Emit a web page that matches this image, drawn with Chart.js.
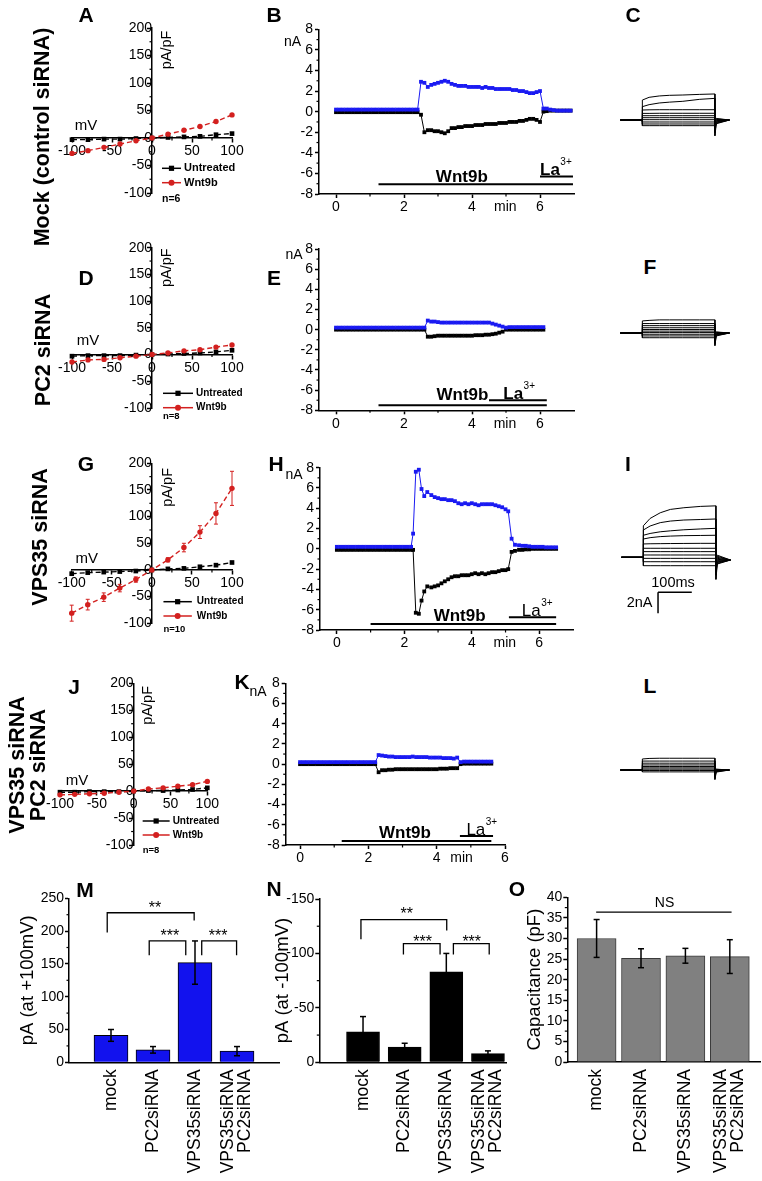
<!DOCTYPE html>
<html>
<head>
<meta charset="utf-8">
<script src="https://cdn.jsdelivr.net/npm/chart.js@4.4.1/dist/chart.umd.min.js"></script>
<style>
  html, body { margin:0; padding:0; background:#fff; }
  #fig { position:relative; width:762px; height:1181px; overflow:hidden; background:#fff;
         font-family:'Liberation Sans', Arial, Helvetica, sans-serif; color:#000; }
  #fig canvas { position:absolute; }
  .letter { position:absolute; font-weight:bold; font-size:21px; line-height:21px;
            transform:translate(-50%,-50%); white-space:nowrap; }
  .row { position:absolute; font-weight:bold; font-size:21.5px; line-height:20.5px; text-align:center;
         white-space:nowrap; transform:translate(-50%,-50%) rotate(-90deg); }
</style>
</head>
<body>
<div id="fig"></div>
<script>
// ======================= DATA =======================
// ---- I-V relationships (A, D, G, J) ----
const ivVoltage = [-100, -80, -60, -40, -20, 0, 20, 40, 60, 80, 100];
const ivXTicks = [-100, -50, 0, 50, 100];
const ivYTicks = [-100, -50, 0, 50, 100, 150, 200];
const ivXMinor = [-75, -25, 25, 75];
const ivYMinor = [-75, -25, 25, 75, 125, 175];
const ivSeriesNames = ['Untreated', 'Wnt9b'];
const A_untreated = [-3, -3, -2, -2, -1, 0, 1, 2, 3, 6, 8];
const A_wnt9b     = [-28, -23, -17, -11, -5, 0, 7, 14, 21, 30, 42];
const D_untreated = [-3, -2, -2, -2, -1, 0, 1, 2, 3, 5, 8];
const D_wnt9b     = [-14, -10, -9, -6, -3, 0, 3, 7, 9, 14, 18];
const G_untreated = [-7, -5, -4, -3, -2, 0, 2, 3, 6, 9, 14];
const G_wnt9b     = [-81, -65, -51, -34, -18, 0, 19, 42, 71, 106, 153];
const G_wnt9bErr  = [15, 10, 8, 7, 5, 0, 4, 8, 12, 20, 32];
const J_untreated = [-2, -2, -1, -1, -1, 0, 1, 1, 2, 3, 6];
const J_wnt9b     = [-7, -6, -5, -4, -2, 0, 4, 6, 9, 12, 18];
const ivCounts = ['n=6', 'n=8', 'n=10', 'n=8'];

// ---- Time courses (B, E, H, K) ----
const tcXTicks = [0, 2, 4, 6];
const tcYTicks = [-8, -6, -4, -2, 0, 2, 4, 6, 8];
const tcXMinor = [1, 3, 5];
const tcYMinor = [-7, -5, -3, -1, 1, 3, 5, 7];
const tcXUnit = 'min';
const tcYUnit = 'nA';

const B_time = [0,0.1,0.2,0.3,0.4,0.5,0.6,0.7,0.8,0.9,1,1.1,1.2,1.3,1.4,1.5,1.6,1.7,1.8,1.9,2,2.1,2.2,2.3,2.4,
  2.5,2.6,2.7,2.8,2.9,3,3.1,3.2,3.3,3.4,3.5,3.6,3.7,3.8,3.9,4,4.1,4.2,4.3,4.4,4.5,4.6,4.7,4.8,4.9,
  5,5.1,5.2,5.3,5.4,5.5,5.6,5.7,5.8,5.9,6,6.1,6.2,6.3,6.4,6.5,6.6,6.7,6.8,6.9];
const B_outward = [0.2,0.2,0.2,0.2,0.2,0.2,0.2,0.2,0.2,0.2,0.2,0.2,0.2,0.2,0.2,0.2,0.2,0.2,0.2,0.2,0.2,0.2,0.2,0.2,0.2,
  2.9,2.8,2.4,2.6,2.7,2.8,2.9,3.0,2.9,2.7,2.6,2.5,2.5,2.5,2.4,2.4,2.4,2.4,2.3,2.4,2.3,2.3,2.2,2.2,2.2,
  2.2,2.2,2.1,2.1,2.0,2.0,1.9,1.8,1.8,1.9,2.0,0.3,0.3,0.2,0.15,0.1,0.1,0.1,0.1,0.1];
const B_inward = [-0.05,-0.05,-0.05,-0.05,-0.05,-0.05,-0.05,-0.05,-0.05,-0.05,-0.05,-0.05,-0.05,-0.05,-0.05,-0.05,-0.05,-0.05,-0.05,-0.05,-0.05,-0.05,-0.05,-0.05,-0.05,
  -0.3,-2.0,-1.8,-1.8,-1.9,-1.9,-2.0,-2.1,-1.9,-1.6,-1.6,-1.5,-1.5,-1.4,-1.4,-1.4,-1.3,-1.3,-1.3,-1.2,-1.2,-1.2,-1.2,-1.1,-1.1,
  -1.1,-1.0,-1.0,-1.0,-0.9,-0.9,-0.8,-0.7,-0.7,-0.8,-1.0,0.0,0.05,0.1,0.1,0.1,0.1,0.1,0.1,0.1];
const B_wnt9b = [1.25, 6.97];
const B_la = [6.0, 6.97];

const E_time = [0,0.1,0.2,0.3,0.4,0.5,0.6,0.7,0.8,0.9,1,1.1,1.2,1.3,1.4,1.5,1.6,1.7,1.8,1.9,2,2.1,2.2,2.3,2.4,2.5,2.6,
  2.7,2.8,2.9,3,3.1,3.2,3.3,3.4,3.5,3.6,3.7,3.8,3.9,4,4.1,4.2,4.3,4.4,4.5,4.6,4.7,4.8,4.9,5,
  5.1,5.2,5.3,5.4,5.5,5.6,5.7,5.8,5.9,6,6.1];
const E_outward = [0.2,0.2,0.2,0.2,0.2,0.2,0.2,0.2,0.2,0.2,0.2,0.2,0.2,0.2,0.2,0.2,0.2,0.2,0.2,0.2,0.2,0.2,0.2,0.2,0.2,0.2,0.2,
  0.9,0.8,0.8,0.75,0.7,0.7,0.7,0.7,0.7,0.7,0.7,0.7,0.7,0.7,0.7,0.7,0.7,0.7,0.7,0.6,0.5,0.4,0.3,0.2,
  0.25,0.25,0.25,0.25,0.25,0.25,0.25,0.25,0.25,0.25,0.25];
const E_inward = [0,0,0,0,0,0,0,0,0,0,0,0,0,0,0,0,0,0,0,0,0,0,0,0,0,0,0,
  -0.7,-0.7,-0.65,-0.6,-0.6,-0.6,-0.6,-0.6,-0.6,-0.6,-0.6,-0.6,-0.6,-0.6,-0.55,-0.55,-0.55,-0.5,-0.5,-0.45,-0.4,-0.3,-0.2,0.0,
  0,0,0,0,0,0,0,0,0,0,0];
const E_wnt9b = [1.25, 6.2];
const E_la = [4.5, 6.2];

const H_time = [0,0.1,0.2,0.3,0.4,0.5,0.6,0.7,0.8,0.9,1,1.1,1.2,1.3,1.4,1.5,1.6,1.7,1.8,1.9,2,2.1,2.2,
  2.26,2.34,2.43,2.51,2.59,2.68,
  2.8,2.9,3,3.1,3.2,3.3,3.4,3.5,3.6,3.7,3.8,3.9,4,4.1,4.2,4.3,4.4,4.5,4.6,4.7,4.8,4.9,5,
  5.08,5.18,5.28,
  5.4,5.5,5.6,5.7,5.8,5.9,6,6.1,6.2,6.3,6.4,6.5];
const H_outward = [0.2,0.2,0.2,0.2,0.2,0.2,0.2,0.2,0.2,0.2,0.2,0.2,0.2,0.2,0.2,0.2,0.2,0.2,0.2,0.2,0.2,0.2,0.2,
  1.5,7.6,7.8,5.9,5.2,5.6,
  5.3,5.1,5.0,4.9,4.9,4.8,4.8,4.7,4.5,4.4,4.5,4.4,4.5,4.4,4.3,4.4,4.4,4.4,4.4,4.3,4.2,4.1,3.9,
  3.7,1.0,0.4,
  0.35,0.3,0.3,0.25,0.2,0.2,0.2,0.2,0.15,0.15,0.15,0.15];
const H_inward = [-0.1,-0.1,-0.1,-0.1,-0.1,-0.1,-0.1,-0.1,-0.1,-0.1,-0.1,-0.1,-0.1,-0.1,-0.1,-0.1,-0.1,-0.1,-0.1,-0.1,-0.1,-0.1,-0.1,
  -0.1,-6.3,-6.4,-5.1,-4.2,-3.7,
  -3.8,-3.7,-3.6,-3.4,-3.2,-3.0,-2.8,-2.7,-2.7,-2.6,-2.6,-2.6,-2.5,-2.4,-2.5,-2.4,-2.5,-2.4,-2.3,-2.3,-2.2,-2.1,-2.1,
  -2.0,-0.3,-0.2,
  -0.1,-0.1,-0.05,-0.05,0,0,0,0,0,0,0,0];
const H_wnt9b = [1.0, 6.5];
const H_la = [5.1, 6.5];

const K_time = [0,0.1,0.2,0.3,0.4,0.5,0.6,0.7,0.8,0.9,1,1.1,1.2,1.3,1.4,1.5,1.6,1.7,1.8,1.9,2,2.1,2.2,
  2.3,2.4,2.5,2.6,2.7,2.8,2.9,3,3.1,3.2,3.3,3.4,3.5,3.6,3.7,3.8,3.9,4,4.1,4.2,4.3,4.4,4.5,4.6,4.7,
  4.8,4.9,5,5.1,5.2,5.3,5.4,5.5,5.6];
const K_outward = [0.2,0.2,0.2,0.2,0.2,0.2,0.2,0.2,0.2,0.2,0.2,0.2,0.2,0.2,0.2,0.2,0.2,0.2,0.2,0.2,0.2,0.2,0.2,
  0.9,0.85,0.8,0.75,0.75,0.7,0.7,0.7,0.7,0.7,0.75,0.7,0.7,0.7,0.7,0.65,0.65,0.65,0.65,0.6,0.6,0.6,0.55,0.65,0.2,
  0.25,0.25,0.25,0.25,0.25,0.25,0.25,0.25,0.25];
const K_inward = [0,0,0,0,0,0,0,0,0,0,0,0,0,0,0,0,0,0,0,0,0,0,0,
  -0.8,-0.6,-0.6,-0.55,-0.55,-0.5,-0.5,-0.5,-0.5,-0.5,-0.5,-0.5,-0.5,-0.5,-0.5,-0.5,-0.5,-0.5,-0.45,-0.45,-0.45,-0.4,-0.4,-0.4,0.0,
  0.05,0.05,0.05,0.05,0.05,0.05,0.05,0.05,0.05];
const K_wnt9b = [1.22, 5.6];
const K_la = [4.68, 5.65];

// ---- Current families (C, F, I, L): time in ms, current in nA ----
const traceHold = [-65, 0];
const traceStepTime = [0, 20, 50, 80, 120, 170, 215];
const traceTailTime = [215, 219, 258];
const C_steps = [
  [1.9, 2.16, 2.29, 2.35, 2.38, 2.44, 2.48],
  [1.27, 1.46, 1.62, 1.7, 1.78, 1.97, 2.06],
  [0.95, 0.97, 0.98, 0.98, 0.98, 0.98, 0.98],
  [0.63, 0.63, 0.64, 0.64, 0.64, 0.64, 0.64],
  [0.41, 0.41, 0.41, 0.41, 0.41, 0.41, 0.41],
  [0.22, 0.22, 0.22, 0.22, 0.22, 0.22, 0.22],
  [0.03, 0.03, 0.03, 0.03, 0.03, 0.03, 0.03],
  [-0.19, -0.19, -0.19, -0.19, -0.19, -0.19, -0.19],
  [-0.38, -0.38, -0.38, -0.38, -0.38, -0.38, -0.38],
  [-0.54, -0.54, -0.54, -0.54, -0.54, -0.54, -0.54]];
const C_tailPeak = [-1.5, -1.2, -0.9, -0.7, -0.5, -0.35, -0.2, -0.1, 0.0, 0.1];
const C_tailMid  = [-0.36, -0.3, -0.24, -0.18, -0.12, -0.06, 0.0, 0.05, 0.1, 0.15];
const C_tailEnd = 0;
const F_steps = [
  [1.15, 1.2, 1.25, 1.25, 1.25, 1.25, 1.25],
  [0.9, 0.9, 0.9, 0.9, 0.9, 0.9, 0.9],
  [0.7, 0.7, 0.7, 0.7, 0.7, 0.7, 0.7],
  [0.5, 0.5, 0.5, 0.5, 0.5, 0.5, 0.5],
  [0.33, 0.33, 0.33, 0.33, 0.33, 0.33, 0.33],
  [0.18, 0.18, 0.18, 0.18, 0.18, 0.18, 0.18],
  [0.04, 0.04, 0.04, 0.04, 0.04, 0.04, 0.04],
  [-0.12, -0.12, -0.12, -0.12, -0.12, -0.12, -0.12],
  [-0.28, -0.28, -0.28, -0.28, -0.28, -0.28, -0.28],
  [-0.45, -0.45, -0.45, -0.45, -0.45, -0.45, -0.45]];
const F_tailPeak = [-1.2, -1.0, -0.8, -0.6, -0.45, -0.3, -0.2, -0.1, 0.0, 0.1];
const F_tailMid  = [-0.28, -0.23, -0.18, -0.14, -0.1, -0.05, 0.0, 0.04, 0.07, 0.1];
const F_tailEnd = 0;
const I_steps = [
  [3.0, 3.7, 4.24, 4.56, 4.72, 4.85, 4.9],
  [2.6, 2.98, 3.3, 3.45, 3.55, 3.6, 3.65],
  [2.1, 2.27, 2.43, 2.52, 2.62, 2.7, 2.76],
  [1.74, 1.87, 1.97, 2.02, 2.06, 2.08, 2.1],
  [1.27, 1.29, 1.3, 1.31, 1.32, 1.33, 1.33],
  [0.86, 0.86, 0.86, 0.86, 0.86, 0.86, 0.86],
  [0.54, 0.54, 0.54, 0.54, 0.54, 0.54, 0.54],
  [0.22, 0.22, 0.22, 0.22, 0.22, 0.22, 0.22],
  [-0.1, -0.1, -0.1, -0.1, -0.1, -0.1, -0.1],
  [-0.42, -0.42, -0.42, -0.42, -0.42, -0.42, -0.42],
  [-0.8, -0.8, -0.8, -0.8, -0.8, -0.8, -0.8]];
const I_tailPeak = [-2.1, -1.7, -1.4, -1.1, -0.9, -0.7, -0.55, -0.45, -0.35, -0.25, -0.15];
const I_tailMid  = [-0.64, -0.58, -0.5, -0.44, -0.38, -0.3, -0.2, -0.1, 0.0, 0.1, 0.2];
const I_tailEnd = -0.26;
const I_scaleBarTime = [43.5, 143.5];
const I_scaleBarCurrent = [-3.33, -5.33];
const I_scaleBarText = ['100ms', '2nA'];
const L_steps = [
  [1.05, 1.1, 1.12, 1.12, 1.12, 1.12, 1.12],
  [0.85, 0.85, 0.85, 0.85, 0.85, 0.85, 0.85],
  [0.65, 0.65, 0.65, 0.65, 0.65, 0.65, 0.65],
  [0.48, 0.48, 0.48, 0.48, 0.48, 0.48, 0.48],
  [0.33, 0.33, 0.33, 0.33, 0.33, 0.33, 0.33],
  [0.2, 0.2, 0.2, 0.2, 0.2, 0.2, 0.2],
  [0.08, 0.08, 0.08, 0.08, 0.08, 0.08, 0.08],
  [-0.05, -0.05, -0.05, -0.05, -0.05, -0.05, -0.05],
  [-0.18, -0.18, -0.18, -0.18, -0.18, -0.18, -0.18]];
const L_tailPeak = [-0.9, -0.7, -0.55, -0.4, -0.3, -0.2, -0.1, 0.0, 0.05];
const L_tailMid  = [-0.2, -0.15, -0.1, -0.08, -0.05, 0.0, 0.03, 0.06, 0.08];
const L_tailEnd = 0;

// ---- Summary bars (M, N, O) ----
const barCategories = ['mock', 'PC2siRNA', 'VPS35siRNA', ['VPS35siRNA', 'PC2siRNA']];
const M_current = [41, 19, 152, 17];
const M_sem     = [9, 5, 33, 7];
const N_current = [-28, -14, -83, -8];
const N_sem     = [14, 3.5, 17, 2.5];
const O_capacitance = [30, 25.2, 25.8, 25.6];
const O_sem         = [4.6, 2.3, 1.8, 4.1];
const M_yTicks = [0, 50, 100, 150, 200, 250];
const M_yMinor = [25, 75, 125, 175, 225];
const N_yTicks = [-150, -100, -50, 0];
const N_yMinor = [-125, -75, -25];
const O_yTicks = [0, 5, 10, 15, 20, 25, 30, 35, 40];
const O_yMinor = [2.5, 7.5, 12.5, 17.5, 22.5, 27.5, 32.5, 37.5];
const sigLabels = ['**', '***', '***'];
const O_sigLabel = 'NS';
const M_title = 'pA (at +100mV)';
const N_title = 'pA (at -100mV)';
const O_title = 'Capacitance (pF)';

// ---- Figure text ----
const rowLabels = [['Mock (control siRNA)'], ['PC2 siRNA'], ['VPS35 siRNA'], ['VPS35 siRNA', 'PC2 siRNA']];
const panelLetters = ['A','B','C','D','E','F','G','H','I','J','K','L','M','N','O'];

// ======================= DRAWING =======================
const FF = "'Liberation Sans', Arial, Helvetica, sans-serif";
const RED = '#d3201f', BLUE = '#1a1af2';
Chart.defaults.font.family = FF;
Chart.defaults.color = '#000';
const fig = document.getElementById('fig');

function seg(ctx, x1, y1, x2, y2, w, color) {
  ctx.save(); ctx.strokeStyle = color || '#000'; ctx.lineWidth = w || 1; ctx.setLineDash([]);
  ctx.beginPath(); ctx.moveTo(x1, y1); ctx.lineTo(x2, y2); ctx.stroke(); ctx.restore();
}
function txt(ctx, s, x, y, font, align, base, rot) {
  ctx.save(); ctx.fillStyle = '#000'; ctx.font = font + ' ' + FF;
  ctx.textAlign = align || 'center'; ctx.textBaseline = base || 'middle';
  ctx.translate(x, y); if (rot) ctx.rotate(rot); ctx.fillText(s, 0, 0); ctx.restore();
}
function makeChart(rect, area, yW, xH, config) {
  const c = document.createElement('canvas');
  c.width = rect.w; c.height = rect.h;
  c.style.left = rect.x + 'px'; c.style.top = rect.y + 'px';
  c.style.width = rect.w + 'px'; c.style.height = rect.h + 'px';
  fig.appendChild(c);
  const o = config.options;
  o.responsive = false; o.animation = false; o.devicePixelRatio = 1; o.events = [];
  o.layout = { padding: { left: area.l - rect.x - yW, top: area.t - rect.y,
                          right: rect.x + rect.w - area.r, bottom: rect.y + rect.h - area.b - xH } };
  o.plugins = Object.assign({ legend: { display: false }, tooltip: { enabled: false } }, o.plugins || {});
  return new Chart(c, config);
}
function axisStyle(extra) {
  return Object.assign({
    grid: { drawOnChartArea: false, tickLength: 4, tickWidth: 1.5, tickColor: '#000' },
    border: { color: '#000', width: 1.5 }
  }, extra);
}

// ---------- I-V panels ----------
function ivPanel(rect, area, untr, wnt, err, nText, L) {
  const pts = arr => ivVoltage.map((v, i) => ({ x: v, y: arr[i] }));
  return makeChart(rect, area, 0, 0, {
    type: 'line',
    data: { datasets: [
      { label: ivSeriesNames[1], data: pts(wnt), borderColor: RED, backgroundColor: RED, pointStyle: 'circle',
        pointRadius: 2.7, pointBorderWidth: 0, borderWidth: 1.4, borderDash: [5, 3], clip: false },
      { label: ivSeriesNames[0], data: pts(untr), borderColor: '#000', backgroundColor: '#000', pointStyle: 'rect',
        pointRadius: 3.3, pointBorderWidth: 0, borderWidth: 1.4, borderDash: [5, 3], clip: false }
    ] },
    options: { scales: {
      x: axisStyle({ type: 'linear', min: -100, max: 100, position: { y: 0 },
        afterBuildTicks: s => { s.ticks = ivXTicks.map(v => ({ value: v })); },
        ticks: { font: { size: 14 }, padding: 1, maxRotation: 0, autoSkip: false } }),
      y: axisStyle({ type: 'linear', min: -100, max: 200, position: { x: 0 },
        afterBuildTicks: s => { s.ticks = ivYTicks.map(v => ({ value: v })); },
        ticks: { font: { size: 14 }, padding: 2, autoSkip: false } })
    } },
    plugins: [{ id: 'ivDecor', afterDraw(chart) {
      const ctx = chart.ctx, X = chart.scales.x, Y = chart.scales.y, a = chart.chartArea;
      const x0 = X.getPixelForValue(0), y0 = Y.getPixelForValue(0);
      ivXMinor.forEach(v => { const x = X.getPixelForValue(v); seg(ctx, x, y0, x, y0 + 2.5, 1.2); });
      ivYMinor.forEach(v => { const y = Y.getPixelForValue(v); seg(ctx, x0, y, x0 - 2.5, y, 1.2); });
      if (err) err.forEach((e, i) => {
        if (!e) return;
        const x = X.getPixelForValue(ivVoltage[i]);
        const yt = Y.getPixelForValue(wnt[i] + e), yb = Y.getPixelForValue(wnt[i] - e);
        seg(ctx, x, yt, x, yb, 1, RED); seg(ctx, x - 2, yt, x + 2, yt, 1, RED); seg(ctx, x - 2, yb, x + 2, yb, 1, RED);
      });
      txt(ctx, 'mV', a.left + L.mv[0], y0 + L.mv[1], '15px');
      txt(ctx, 'pA/pF', x0 + L.pa[0], a.top + L.pa[1], '14.5px', 'center', 'middle', -Math.PI / 2);
      const rows = [[ivSeriesNames[0], '#000', 'rect'], [ivSeriesNames[1], RED, 'circle']];
      rows.forEach((r, k) => {
        const y = a.bottom + L.rows[k];
        const xa = x0 + L.line[0], xb = x0 + L.line[1], mx = (xa + xb) / 2;
        seg(ctx, xa, y, xb, y, 1.5, r[1]);
        ctx.save(); ctx.fillStyle = r[1];
        if (r[2] === 'rect') ctx.fillRect(mx - 2.6, y - 2.6, 5.2, 5.2);
        else { ctx.beginPath(); ctx.arc(mx, y, 3, 0, 2 * Math.PI); ctx.fill(); }
        ctx.restore();
        txt(ctx, r[0], x0 + L.text, y, 'bold ' + L.fs + 'px', 'left');
      });
      txt(ctx, nText, x0 + L.line[0], a.bottom + L.n, 'bold ' + (L.fs - 0.5) + 'px', 'left');
    } }]
  });
}

// ---------- time-course panels ----------
function tcPanel(rect, area, xr, time, outward, inward, wnt, la, L) {
  const pts = arr => time.map((t, i) => ({ x: t, y: arr[i] }));
  return makeChart(rect, area, 30, 22, {
    type: 'line',
    data: { datasets: [
      { data: pts(outward), borderColor: BLUE, backgroundColor: BLUE, pointStyle: 'rect', pointRadius: 2.7,
        pointBorderWidth: 0, borderWidth: 1, clip: false },
      { data: pts(inward), borderColor: '#000', backgroundColor: '#000', pointStyle: 'rect', pointRadius: 2.7,
        pointBorderWidth: 0, borderWidth: 1, clip: false }
    ] },
    options: { scales: {
      x: axisStyle({ type: 'linear', min: xr[0], max: xr[1], afterFit: s => { s.height = 22; },
        afterBuildTicks: s => { s.ticks = tcXTicks.filter(v => v <= xr[1]).map(v => ({ value: v })); },
        ticks: { font: { size: 14 }, padding: 1, maxRotation: 0, autoSkip: false } }),
      y: axisStyle({ type: 'linear', min: -8, max: 8, afterFit: s => { s.width = 30; },
        afterBuildTicks: s => { s.ticks = tcYTicks.map(v => ({ value: v })); },
        ticks: { font: { size: 14 }, padding: 2, autoSkip: false } })
    } },
    plugins: [{ id: 'tcDecor', afterDraw(chart) {
      const ctx = chart.ctx, X = chart.scales.x, Y = chart.scales.y, a = chart.chartArea;
      tcYMinor.forEach(v => { const y = Y.getPixelForValue(v); seg(ctx, a.left, y, a.left - 2.5, y, 1.2); });
      tcXMinor.filter(v => v < xr[1]).forEach(v => { const x = X.getPixelForValue(v); seg(ctx, x, a.bottom, x, a.bottom + 2.5, 1.2); });
      const bar = (r, yv) => seg(ctx, X.getPixelForValue(r[0]), Y.getPixelForValue(yv), X.getPixelForValue(r[1]), Y.getPixelForValue(yv), 2);
      bar(wnt, L.wntY); bar(la, L.laY);
      txt(ctx, 'Wnt9b', X.getPixelForValue(L.wntText[0]), Y.getPixelForValue(L.wntText[1]), 'bold 17px', 'center', 'alphabetic');
      const lf = (L.laBold ? 'bold ' : '') + '17px';
      const lx = X.getPixelForValue(L.laText[0]), ly = Y.getPixelForValue(L.laText[1]);
      txt(ctx, 'La', lx, ly, lf, 'left', 'alphabetic');
      ctx.save(); ctx.font = lf + ' ' + FF; const w = ctx.measureText('La').width; ctx.restore();
      txt(ctx, '3+', lx + w + 0.5, ly - 10, '10px', 'left', 'alphabetic');
      txt(ctx, tcYUnit, a.left + L.nA[0], a.top + L.nA[1], '14px');
      txt(ctx, tcXUnit, X.getPixelForValue(L.minAt), a.bottom + 13.4, '14px');
    } }]
  });
}

// ---------- current-family panels ----------
function tracePanel(area, yr, steps, tailPeak, tailMid, tailEnd, extra) {
  const rect = { x: 600, y: Math.floor(area.t) - 10, w: 150, h: Math.ceil(area.b - area.t) + 20 };
  const ds = steps.map((s, i) => ({
    data: [{ x: traceHold[0], y: 0 }, { x: traceHold[1], y: 0 }]
      .concat(traceStepTime.map((t, k) => ({ x: t, y: s[k] })))
      .concat([{ x: traceTailTime[0], y: tailPeak[i] }, { x: traceTailTime[1], y: tailMid[i] }, { x: traceTailTime[2], y: tailEnd }]),
    borderColor: '#000', borderWidth: 1, pointRadius: 0, clip: false, tension: 0
  }));
  return makeChart(rect, area, 0, 0, {
    type: 'line',
    data: { datasets: ds },
    options: { scales: {
      x: { type: 'linear', min: traceHold[0], max: 262, display: false },
      y: { type: 'linear', min: yr[0], max: yr[1], display: false }
    } },
    plugins: extra ? [{ id: 'trDecor', afterDraw(chart) { extra(chart); } }] : []
  });
}

// ---------- bar panels ----------
function barPanel(rect, area, yW, xr, yr, rev, vals, errs, fill, edge, bw, yTicks, yMinor, title, titlePad, deco) {
  return makeChart(rect, area, yW, 0, {
    type: 'bar',
    data: { datasets: [{ data: vals.map((v, i) => ({ x: i + 1, y: v })), backgroundColor: fill,
      borderColor: edge, borderWidth: 1, barThickness: bw }] },
    options: { scales: {
      x: { type: 'linear', min: xr[0], max: xr[1], offset: false, afterFit: s => { s.height = 0; },
        ticks: { display: false }, grid: { display: false }, border: { color: '#000', width: 1.5 } },
      y: axisStyle({ type: 'linear', min: yr[0], max: yr[1], reverse: rev, afterFit: s => { s.width = yW; },
        afterBuildTicks: s => { s.ticks = yTicks.map(v => ({ value: v })); },
        ticks: { font: { size: 14 }, padding: 1, autoSkip: false },
        title: { display: true, text: title, font: { size: 18.5 }, padding: { top: titlePad, bottom: 0 } } })
    } },
    plugins: [{ id: 'barDecor', afterDraw(chart) {
      const ctx = chart.ctx, X = chart.scales.x, Y = chart.scales.y, a = chart.chartArea;
      yMinor.forEach(v => { const y = Y.getPixelForValue(v); seg(ctx, a.left, y, a.left - 2.5, y, 1.2); });
      vals.forEach((v, i) => {
        const x = X.getPixelForValue(i + 1);
        const y1 = Y.getPixelForValue(v + errs[i]), y2 = Y.getPixelForValue(v - errs[i]);
        seg(ctx, x, y1, x, y2, 1.5); seg(ctx, x - 3, y1, x + 3, y1, 1.5); seg(ctx, x - 3, y2, x + 3, y2, 1.5);
      });
      barCategories.forEach((c, i) => {
        const lines = Array.isArray(c) ? c : [c];
        const x = X.getPixelForValue(i + 1);
        lines.forEach((s, j) => txt(ctx, s, x + (j - (lines.length - 1) / 2) * 17, a.bottom + 7,
          '17.5px', 'right', 'middle', -Math.PI / 2));
      });
      deco(ctx, X, Y);
    } }]
  });
}
function brackets(list) {
  return (ctx, X, Y) => list.forEach((b, k) => {
    const x1 = X.getPixelForValue(b.x1), x2 = X.getPixelForValue(b.x2), yt = Y.getPixelForValue(b.top);
    ctx.save(); ctx.lineWidth = 1.3; ctx.strokeStyle = '#000'; ctx.beginPath();
    ctx.moveTo(x1, Y.getPixelForValue(b.b1)); ctx.lineTo(x1, yt); ctx.lineTo(x2, yt); ctx.lineTo(x2, Y.getPixelForValue(b.b2));
    ctx.stroke(); ctx.restore();
    txt(ctx, sigLabels[k], X.getPixelForValue(b.tx), Y.getPixelForValue(b.ty) + 8, '16px', 'center', 'alphabetic');
  });
}

// ======================= BUILD =======================
// I-V
ivPanel({ x: 40, y: 10, w: 215, h: 215 }, { l: 72, r: 232, t: 28, b: 193 }, A_untreated, A_wnt9b, null, ivCounts[0],
  { mv: [14, -12], pa: [15, 22], line: [10, 29], text: 32, rows: [-24.7, -10.3], n: 6, fs: 11 });
ivPanel({ x: 40, y: 232, w: 215, h: 200 }, { l: 72, r: 232, t: 247.7, b: 408 }, D_untreated, D_wnt9b, null, ivCounts[1],
  { mv: [16, -14], pa: [15, 20], line: [11, 41], text: 44, rows: [-14.7, -0.3], n: 8, fs: 10 });
ivPanel({ x: 40, y: 445, w: 215, h: 200 }, { l: 71.7, r: 232, t: 463.3, b: 623.3 }, G_untreated, G_wnt9b, G_wnt9bErr, ivCounts[2],
  { mv: [15, -11], pa: [16, 24], line: [11.6, 40], text: 45, rows: [-21.6, -7.3], n: 6, fs: 10 });
ivPanel({ x: 30, y: 670, w: 200, h: 195 }, { l: 60, r: 207.3, t: 683.3, b: 845 }, J_untreated, J_wnt9b, null, ivCounts[3],
  { mv: [17, -10], pa: [14, 22], line: [9, 36], text: 39, rows: [-24, -10], n: 5, fs: 10 });

// time courses
tcPanel({ x: 260, y: 15, w: 320, h: 210 }, { l: 319, r: 574, t: 29.3, b: 194 }, [-0.5, 7], B_time, B_outward, B_inward, B_wnt9b, B_la,
  { wntY: -7.05, laY: -6.3, wntText: [3.7, -6.85], laText: [6.0, -6.2], laBold: true, nA: [-26.5, 13.2], minAt: 4.98 });
tcPanel({ x: 260, y: 235, w: 320, h: 200 }, { l: 319, r: 574, t: 249, b: 410.3 }, [-0.5, 7], E_time, E_outward, E_inward, E_wnt9b, E_la,
  { wntY: -7.5, laY: -7.0, wntText: [3.72, -7.0], laText: [4.92, -6.85], laBold: true, nA: [-25, 6], minAt: 4.97 });
tcPanel({ x: 260, y: 450, w: 320, h: 205 }, { l: 320, r: 573, t: 467.7, b: 630 }, [-0.5, 7], H_time, H_outward, H_inward, H_wnt9b, H_la,
  { wntY: -7.4, laY: -6.75, wntText: [3.64, -7.15], laText: [5.48, -6.65], laBold: false, nA: [-26, 7.3], minAt: 4.98 });
tcPanel({ x: 225, y: 668, w: 295, h: 200 }, { l: 285.7, r: 505, t: 683.3, b: 845 }, [-0.42, 6], K_time, K_outward, K_inward, K_wnt9b, K_la,
  { wntY: -7.6, laY: -7.1, wntText: [3.07, -7.3], laText: [4.87, -7.05], laBold: false, nA: [-27.7, 8.4], minAt: 4.73 });

// current families
tracePanel({ l: 620.4, r: 730.8, t: 78, b: 162 }, [-4, 4], C_steps, C_tailPeak, C_tailMid, C_tailEnd);
tracePanel({ l: 620.4, r: 730.8, t: 291, b: 375 }, [-4, 4], F_steps, F_tailPeak, F_tailMid, F_tailEnd);
tracePanel({ l: 621.4, r: 731.8, t: 494.3, b: 620.3 }, [-6, 6], I_steps, I_tailPeak, I_tailMid, I_tailEnd, chart => {
  const ctx = chart.ctx, X = chart.scales.x, Y = chart.scales.y;
  const xa = X.getPixelForValue(I_scaleBarTime[0]), xb = X.getPixelForValue(I_scaleBarTime[1]);
  const ya = Y.getPixelForValue(I_scaleBarCurrent[0]), yb = Y.getPixelForValue(I_scaleBarCurrent[1]);
  seg(ctx, xa, ya, xb, ya, 1.5); seg(ctx, xa, ya, xa, yb, 1.5);
  txt(ctx, I_scaleBarText[0], X.getPixelForValue(88), Y.getPixelForValue(-2.45), '14.5px');
  txt(ctx, I_scaleBarText[1], X.getPixelForValue(27), Y.getPixelForValue(-4.35), '14.5px', 'right');
});
tracePanel({ l: 620.4, r: 730.8, t: 728, b: 812 }, [-4, 4], L_steps, L_tailPeak, L_tailMid, L_tailEnd);

// summary bars
barPanel({ x: 0, y: 885, w: 285, h: 296 }, { l: 69, r: 279, t: 898.3, b: 1062.3 }, 69, [0, 5], [0, 250], false,
  M_current, M_sem, '#1212ee', '#000', 34, M_yTicks, M_yMinor, M_title, 17, brackets([
    { x1: 0.91, x2: 2.98, top: 228, b1: 198, b2: 216, tx: 2.05, ty: 240 },
    { x1: 1.91, x2: 2.78, top: 185, b1: 163, b2: 163, tx: 2.4, ty: 197 },
    { x1: 3.16, x2: 3.99, top: 185, b1: 163, b2: 163, tx: 3.55, ty: 197 }]));
barPanel({ x: 258, y: 885, w: 255, h: 296 }, { l: 319.3, r: 506.7, t: 899, b: 1062.3 }, 61.3, [-0.05, 4.45], [-150, 0], true,
  N_current, N_sem, '#000', '#000', 33, N_yTicks, N_yMinor, N_title, 14.3, brackets([
    { x1: 0.95, x2: 3.01, top: -131, b1: -113, b2: -121, tx: 2.05, ty: -139 },
    { x1: 1.97, x2: 2.85, top: -109, b1: -99, b2: -99, tx: 2.43, ty: -113 },
    { x1: 3.17, x2: 4.03, top: -109, b1: -99, b2: -99, tx: 3.61, ty: -113 }]));
barPanel({ x: 512, y: 885, w: 250, h: 296 }, { l: 567.3, r: 760, t: 897.3, b: 1062 }, 55.3, [0.34, 4.68], [0, 40], false,
  O_capacitance, O_sem, '#808080', '#3a3a3a', 39, O_yTicks, O_yMinor, O_title, 12, (ctx, X, Y) => {
    const y = Y.getPixelForValue(36.4);
    seg(ctx, X.getPixelForValue(0.99), y, X.getPixelForValue(4.04), y, 1.2);
    txt(ctx, O_sigLabel, X.getPixelForValue(2.53), Y.getPixelForValue(38.6), '14px');
  });

// row labels and panel letters
const rowPos = [[42, 137], [43, 350], [40, 537], [27, 765]];
rowLabels.forEach((r, i) => {
  const d = document.createElement('div'); d.className = 'row';
  r.forEach((s, j) => { if (j) d.appendChild(document.createElement('br')); d.appendChild(document.createTextNode(s)); });
  d.style.left = rowPos[i][0] + 'px'; d.style.top = rowPos[i][1] + 'px'; fig.appendChild(d);
});
const letterPos = [[86, 14], [274, 14], [633, 14], [86, 277], [274, 277], [650, 266], [86, 463], [276, 463], [628, 463],
  [74, 686], [242, 681], [650, 685], [85, 889], [274, 888], [517, 888]];
panelLetters.forEach((s, i) => {
  const d = document.createElement('div'); d.className = 'letter'; d.textContent = s;
  d.style.left = letterPos[i][0] + 'px'; d.style.top = letterPos[i][1] + 'px'; fig.appendChild(d);
});
</script>
</body>
</html>
